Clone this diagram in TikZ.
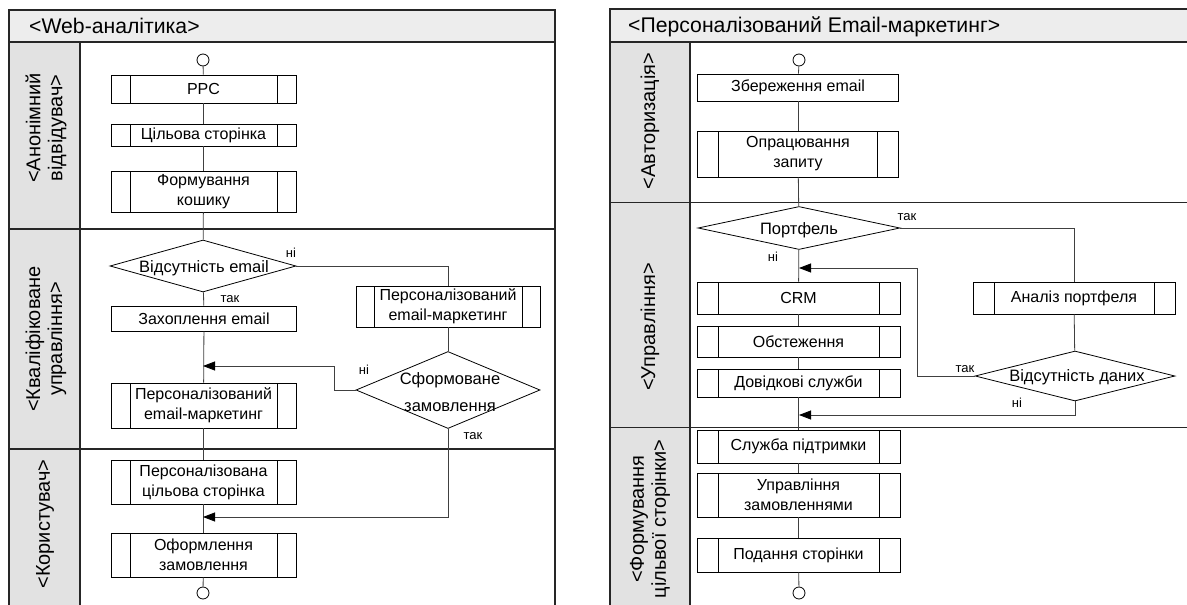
\documentclass[tikz,border=0pt]{standalone}
\usepackage{fontspec}
\setmainfont{Liberation Sans}
\usetikzlibrary{arrows.meta,shapes.geometric,calc}
\definecolor{titlefill}{HTML}{EDEDED}
\definecolor{lanefill}{HTML}{E2E2E2}
\begin{document}
\begin{tikzpicture}[x=1pt,y=-1pt,
  frame/.style={line width=1.4pt,black!85},
  sep/.style={line width=1.2pt,black!85},
  plain/.style={draw=black,line width=0.8pt,fill=white,inner sep=1pt,align=center,
    font=\fontsize{16}{20}\selectfont},
  proc/.style={plain,path picture={
    \draw[line width=0.8pt] ($(path picture bounding box.north west)+(#1,0)$) -- ($(path picture bounding box.south west)+(#1,0)$);
    \draw[line width=0.8pt] ($(path picture bounding box.north east)+(-#1,0)$) -- ($(path picture bounding box.south east)+(-#1,0)$);}},
  proc/.default=19,
  dec/.style={diamond,draw=black,line width=0.8pt,fill=white,inner sep=0pt},
  dtext/.style={font=\fontsize{16.5}{27}\selectfont,align=center,inner sep=0pt},
  term/.style={circle,draw=black,line width=0.8pt,fill=white,minimum size=12pt,inner sep=0pt},
  conn/.style={line width=0.8pt,black!75},
  arr/.style={-{Triangle[length=12pt,width=9pt,color=black]}},
  lbl/.style={font=\fontsize{13}{15}\selectfont,inner sep=0pt},
  ttl/.style={font=\fontsize{21.2}{24}\selectfont,anchor=west,inner sep=0pt},
  lane/.style={font=\fontsize{20}{22}\selectfont,rotate=90,align=center,inner sep=0pt}]
\useasboundingbox (0,0) rectangle (1187,605);
\clip (0,0) rectangle (1187,605);
\fill[white] (0,0) rectangle (1187,605);

% ---------------- left panel frame ----------------
\fill[titlefill] (9,10) rectangle (555,42);
\fill[lanefill] (9,42) rectangle (80,615);
\draw[sep] (80,42) -- (80,615);
\draw[sep] (9,229) -- (555,229);
\draw[sep] (9,449) -- (555,449);
\draw[frame] (9,42) -- (555,42);
\draw[frame] (9,615) -- (9,10) -- (555,10) -- (555,615);
\node[ttl] (t1) at (29,26) {<Web-аналітика>};
\node[lane] (l11) at (46,128) {<Анонімний\\відвідувач>};
\node[lane] (l12) at (46,339) {<Кваліфіковане\\управління>};
\node[lane] (l13) at (45,524) {<Користувач>};

% ---------------- right panel frame ----------------
\fill[titlefill] (610,9) rectangle (1192,42);
\fill[lanefill] (610,42) rectangle (690,615);
\draw[sep] (690,42) -- (690,615);
\draw[sep] (610,202.5) -- (1192,202.5);
\draw[sep] (610,427.5) -- (1192,427.5);
\draw[frame] (610,42) -- (1192,42);
\draw[frame] (610,615) -- (610,9) -- (1192,9);
\node[ttl] (t2) at (628,27) {<Персоналізований Email-маркетинг>};
\node[lane] (l21) at (650,121) {<Авторизація>};
\node[lane] (l22) at (650,327) {<Управління>};
\node[lane] (l23) at (650,519) {<Формування\\цільвої сторінки>};

% ---------------- left flow ----------------
\node[term] (s1) at (203,60) {};
\node[proc,minimum width=185pt,minimum height=28pt] (ppc) at (203.5,89) {PPC};
\node[proc,minimum width=185pt,minimum height=22pt] (tgt) at (203.5,135) {Цільова сторінка};
\node[proc,minimum width=185pt,minimum height=41pt] (cart) at (203.5,191.5) {Формування\\кошику};
\node[dec,minimum width=186pt,minimum height=52pt] (d1) at (203,266) {};
\node[dtext] (d1t) at (204,268) {Відсутність email};
\node[plain,minimum width=185pt,minimum height=25pt] (cap) at (204,318.5) {Захоплення email};
\node[proc=18,minimum width=184pt,minimum height=41pt] (pem1) at (448,306.5) {Персоналізований\\email-маркетинг};
\node[dec,minimum width=184pt,minimum height=77pt] (d2) at (448,390) {};
\node[dtext] (d2t) at (450,392) {Сформоване\\замовлення};
\node[proc,minimum width=185pt,minimum height=45pt] (pem2) at (203.5,405.5) {Персоналізований\\email-маркетинг};
\node[proc,minimum width=185pt,minimum height=44pt] (ptp) at (203.5,482) {Персоналізована\\цільова сторінка};
\node[proc,minimum width=185pt,minimum height=44pt] (ord) at (203.5,555) {Оформлення\\замовлення};
\node[term] (e1) at (203,593) {};

\foreach \a/\b in {s1/ppc,ppc/tgt,tgt/cart,cart/d1,d1/cap,cap/pem2,pem2/ptp,ptp/ord,ord/e1,pem1/d2}
  \draw[conn] (\a) -- (\b);
\coordinate (m1) at (203,366);
\coordinate (b1) at (334,366);
\coordinate (m2) at (203,517);
\draw[conn] (d1.east) -| (pem1.north);
\draw[conn,arr] (d2.west) -| (b1) -- (m1);
\draw[conn,arr] (d2.south) |- (m2);
\node[lbl] (n1) at (291,253) {ні};
\node[lbl] (y1) at (230,299) {так};
\node[lbl] (n2) at (364,370) {ні};
\node[lbl] (y2) at (473,436) {так};

% ---------------- right flow ----------------
\node[term] (s2) at (799,60) {};
\node[plain,minimum width=201pt,minimum height=27pt] (save) at (798,87.5) {Збереження email};
\node[proc=21,minimum width=201pt,minimum height=46pt] (req) at (798,154) {Опрацювання\\запиту};
\node[dec,minimum width=202pt,minimum height=43pt] (pf) at (799,228) {};
\node[dtext] (pft) at (799,230) {Портфель};
\node[proc=21,minimum width=203pt,minimum height=32pt] (crm) at (798.5,298) {CRM};
\node[proc=21,minimum width=203pt,minimum height=31pt] (obs) at (798.5,341.5) {Обстеження};
\node[proc=21,minimum width=203pt,minimum height=28pt] (dov) at (798.5,383) {Довідкові служби};
\node[proc=21,minimum width=202pt,minimum height=32pt] (ana) at (1074,298) {Аналіз портфеля};
\node[dec,minimum width=200pt,minimum height=50pt] (d3) at (1075,376) {};
\node[dtext] (d3t) at (1077,377) {Відсутність даних};
\node[proc=21,minimum width=203pt,minimum height=33pt] (sup) at (798.5,446.5) {Служба підтримки};
\node[proc=21,minimum width=203pt,minimum height=44pt] (mgmt) at (798.5,495) {Управління\\замовленнями};
\node[proc=21,minimum width=203pt,minimum height=34pt] (pres) at (798.5,555) {Подання сторінки};
\node[term] (e2) at (799,593) {};

\foreach \a/\b in {s2/save,save/req,req/pf,pf/crm,crm/obs,obs/dov,dov/sup,sup/mgmt,mgmt/pres,pres/e2,ana/d3}
  \draw[conn] (\a) -- (\b);
\coordinate (m3) at (799,268);
\coordinate (b2) at (917,268);
\coordinate (m4) at (799,415);
\draw[conn] (pf.east) -| (ana.north);
\draw[conn,arr] (d3.west) -| (b2) -- (m3);
\draw[conn,arr] (d3.south) |- (m4);
\node[lbl] (y3) at (907,217) {так};
\node[lbl] (n3) at (773,257) {ні};
\node[lbl] (y4) at (965,369) {так};
\node[lbl] (n4) at (1017,403) {ні};
\end{tikzpicture}
\end{document}
